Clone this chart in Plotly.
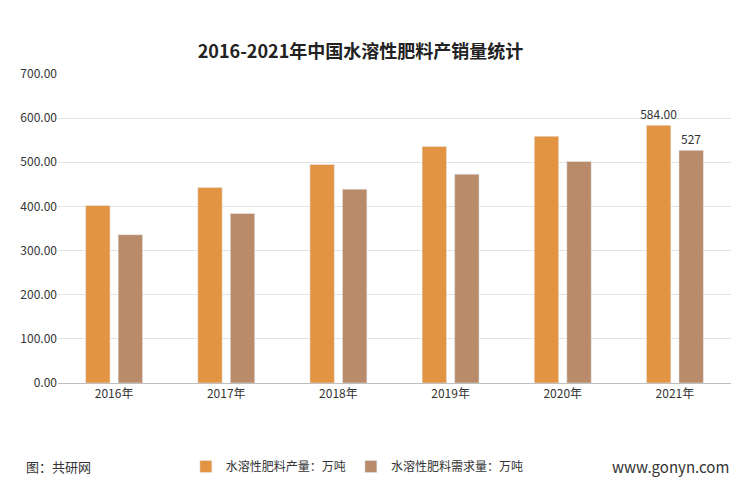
import plotly.graph_objects as go

years = ["2016年", "2017年", "2018年", "2019年", "2020年", "2021年"]
production = [402, 443, 495, 536, 559, 584]
demand = [336, 384, 439, 473, 502, 527]
tick_vals = [0, 100, 200, 300, 400, 500, 600, 700]
tick_text = ["0.00", "100.00", "200.00", "300.00", "400.00", "500.00", "600.00", "700.00"]

fnt = "Noto Sans CJK SC"
fig = go.Figure()
fig.add_bar(x=years, y=production, name="水溶性肥料产量：万吨", marker_color="#E39443",
            text=[""] * 5 + ["584.00"], textposition="outside", textfont=dict(size=12, color="#333"))
fig.add_bar(x=years, y=demand, name="水溶性肥料需求量：万吨", marker_color="#B98B6A",
            text=[""] * 5 + ["527"], textposition="outside", textfont=dict(size=12, color="#333"))
fig.update_layout(
    width=750, height=500, paper_bgcolor="white", plot_bgcolor="white",
    font=dict(family=fnt, size=12, color="#333"),
    title=dict(text="<b>2016-2021年中国水溶性肥料产销量统计</b>", x=0.47, y=0.925, xanchor="center",
               font=dict(size=18, color="#222")),
    margin=dict(l=43, r=27, t=66, b=125),
    barmode="group", bargap=0.42, bargroupgap=0.25,
    yaxis=dict(range=[0, 700], tickvals=tick_vals, ticktext=tick_text, showgrid=True,
               gridcolor="#e3e3e3", zeroline=False, tickfont=dict(size=12)),
    xaxis=dict(showline=True, linecolor="#bfbfbf", tickfont=dict(size=12)),
    legend=dict(orientation="h", x=0.19, y=-0.27, xanchor="left", yanchor="middle", font=dict(size=12)),
    uniformtext=dict(mode="show", minsize=10),
)
fig.add_annotation(text="图：共研网", x=-0.05, y=-0.27, xref="paper", yref="paper", xanchor="left",
                   yanchor="middle", showarrow=False, font=dict(size=13, color="#333"))
fig.add_annotation(text="www.gonyn.com", x=1.0, y=-0.27, xref="paper", yref="paper", xanchor="right",
                   yanchor="middle", showarrow=False, font=dict(size=15, color="#333"))
fig.write_html("out.html")
